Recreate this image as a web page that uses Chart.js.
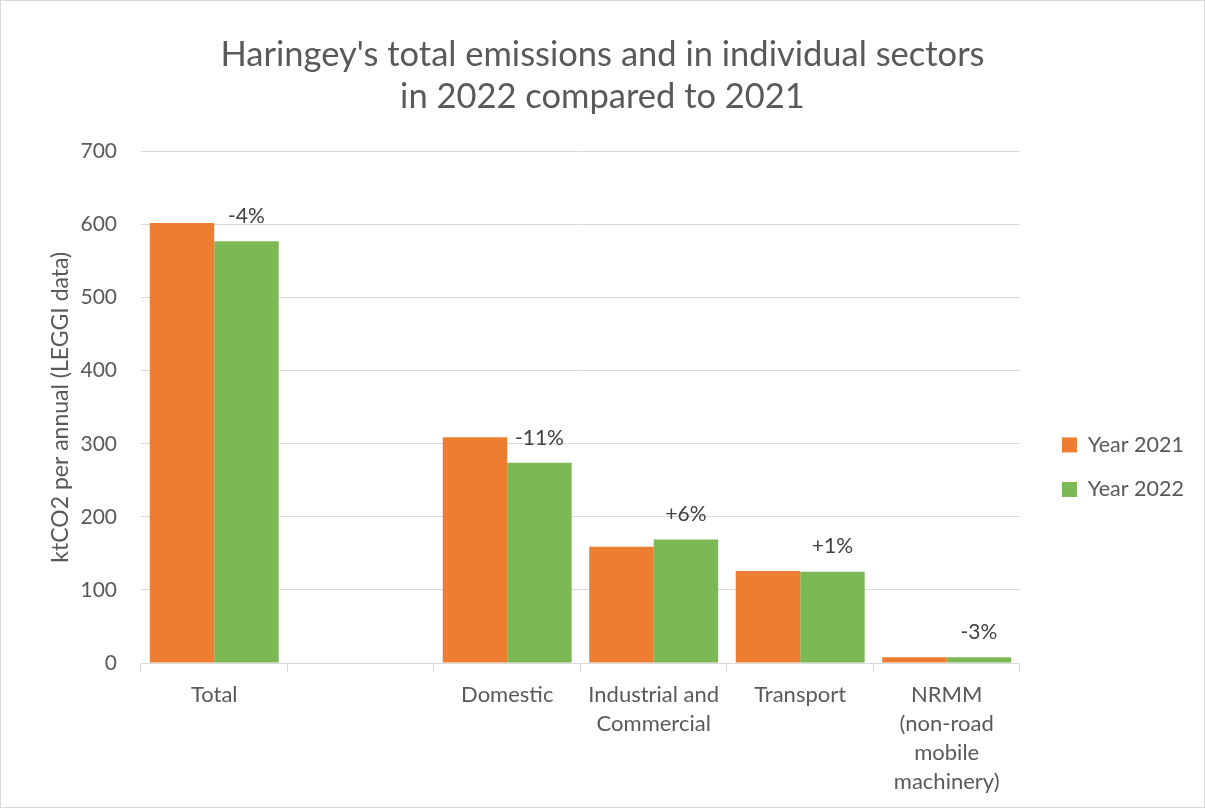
<!DOCTYPE html>
<html>
<head>
<meta charset="utf-8">
<script src="https://cdn.jsdelivr.net/npm/chart.js@4.4.1/dist/chart.umd.min.js"></script>
<style>
  html, body { margin: 0; padding: 0; background: #fff; }
  #wrap { position: relative; width: 1203px; height: 806px; border: 1px solid #d9d9d9; }
</style>
</head>
<body>
<div id="wrap"><canvas id="c"></canvas></div>
<script>
const categories = ["Total", "", "Domestic", ["Industrial and", "Commercial"], "Transport", ["NRMM", "(non-road", "mobile", "machinery)"]];
const year2021 = [602, null, 309, 159, 126, 8];
const year2022 = [577, null, 274, 169, 125, 8];
const changeLabels = ["-4%", "", "-11%", "+6%", "+1%", "-3%"];
const yTicks = [0, 100, 200, 300, 400, 500, 600, 700];

const FONT = "Lato, 'Open Sans', sans-serif";
const GREY = "#595959";

const changeLabelPlugin = {
  id: 'changeLabels',
  afterDatasetsDraw(chart) {
    const ctx = chart.ctx;
    const meta = chart.getDatasetMeta(1);
    ctx.save();
    ctx.font = "21px " + FONT;
    ctx.fillStyle = "#404040";
    ctx.textAlign = "center";
    ctx.textBaseline = "middle";
    meta.data.forEach((bar, i) => {
      const t = changeLabels[i];
      if (!t) return;
      ctx.fillText(t, bar.x, bar.y - 25);
    });
    ctx.restore();
  }
};

new Chart(document.getElementById('c'), {
  type: 'bar',
  data: {
    labels: categories,
    datasets: [
      { label: 'Year 2021', data: year2021, backgroundColor: '#ED7D31', borderWidth: 0 },
      { label: 'Year 2022', data: year2022, backgroundColor: '#7CB853', borderWidth: 0 }
    ]
  },
  options: {
    responsive: true,
    maintainAspectRatio: false,
    animation: false,
    devicePixelRatio: 1,
    layout: { padding: { left: 10, right: 10, top: 0, bottom: 0 } },
    datasets: { bar: { categoryPercentage: 0.88, barPercentage: 1.0 } },
    plugins: {
      title: {
        display: true,
        text: ["Haringey's total emissions and in individual sectors", "in 2022 compared to 2021"],
        color: GREY,
        font: { family: FONT, size: 34.5, weight: 'normal', lineHeight: 1.21 },
        padding: { top: 33, bottom: 34 }
      },
      legend: {
        position: 'right',
        align: 'center',
        title: { display: true, text: ' ', font: { size: 12, lineHeight: 1.2 }, padding: { top: 112, bottom: 0 } },
        labels: {
          color: GREY,
          font: { family: FONT, size: 21.5 },
          boxWidth: 15,
          boxHeight: 15,
          padding: 23
        }
      },
      tooltip: { enabled: false }
    },
    scales: {
      x: {
        grid: { display: true, drawOnChartArea: false, drawTicks: true, tickLength: 9, color: '#d9d9d9', offset: true },
        border: { display: true, color: '#d9d9d9' },
        ticks: { color: GREY, font: { family: FONT, size: 22, lineHeight: 1.32 }, padding: 8, maxRotation: 0, autoSkip: false },
        afterFit(scale) { scale.height = 144; }
      },
      y: {
        min: 0, max: 700,
        afterBuildTicks(scale) { scale.ticks = yTicks.map(v => ({ value: v })); },
        grid: { color: '#d9d9d9', drawTicks: false },
        border: { display: false },
        ticks: { color: GREY, font: { family: FONT, size: 21 }, padding: 24 },
        title: { display: true, text: 'ktCO2 per annual (LEGGI data)', color: GREY, font: { family: FONT, size: 23 }, padding: { top: 36, bottom: 0 } },
        afterFit(scale) { scale.width = 130; }
      },
      gap: {
        position: 'right',
        display: true,
        grid: { display: false },
        border: { display: false },
        ticks: { display: false },
        afterFit(scale) { scale.width = 19; }
      }
    }
  },
  plugins: [changeLabelPlugin]
});
</script>
</body>
</html>
